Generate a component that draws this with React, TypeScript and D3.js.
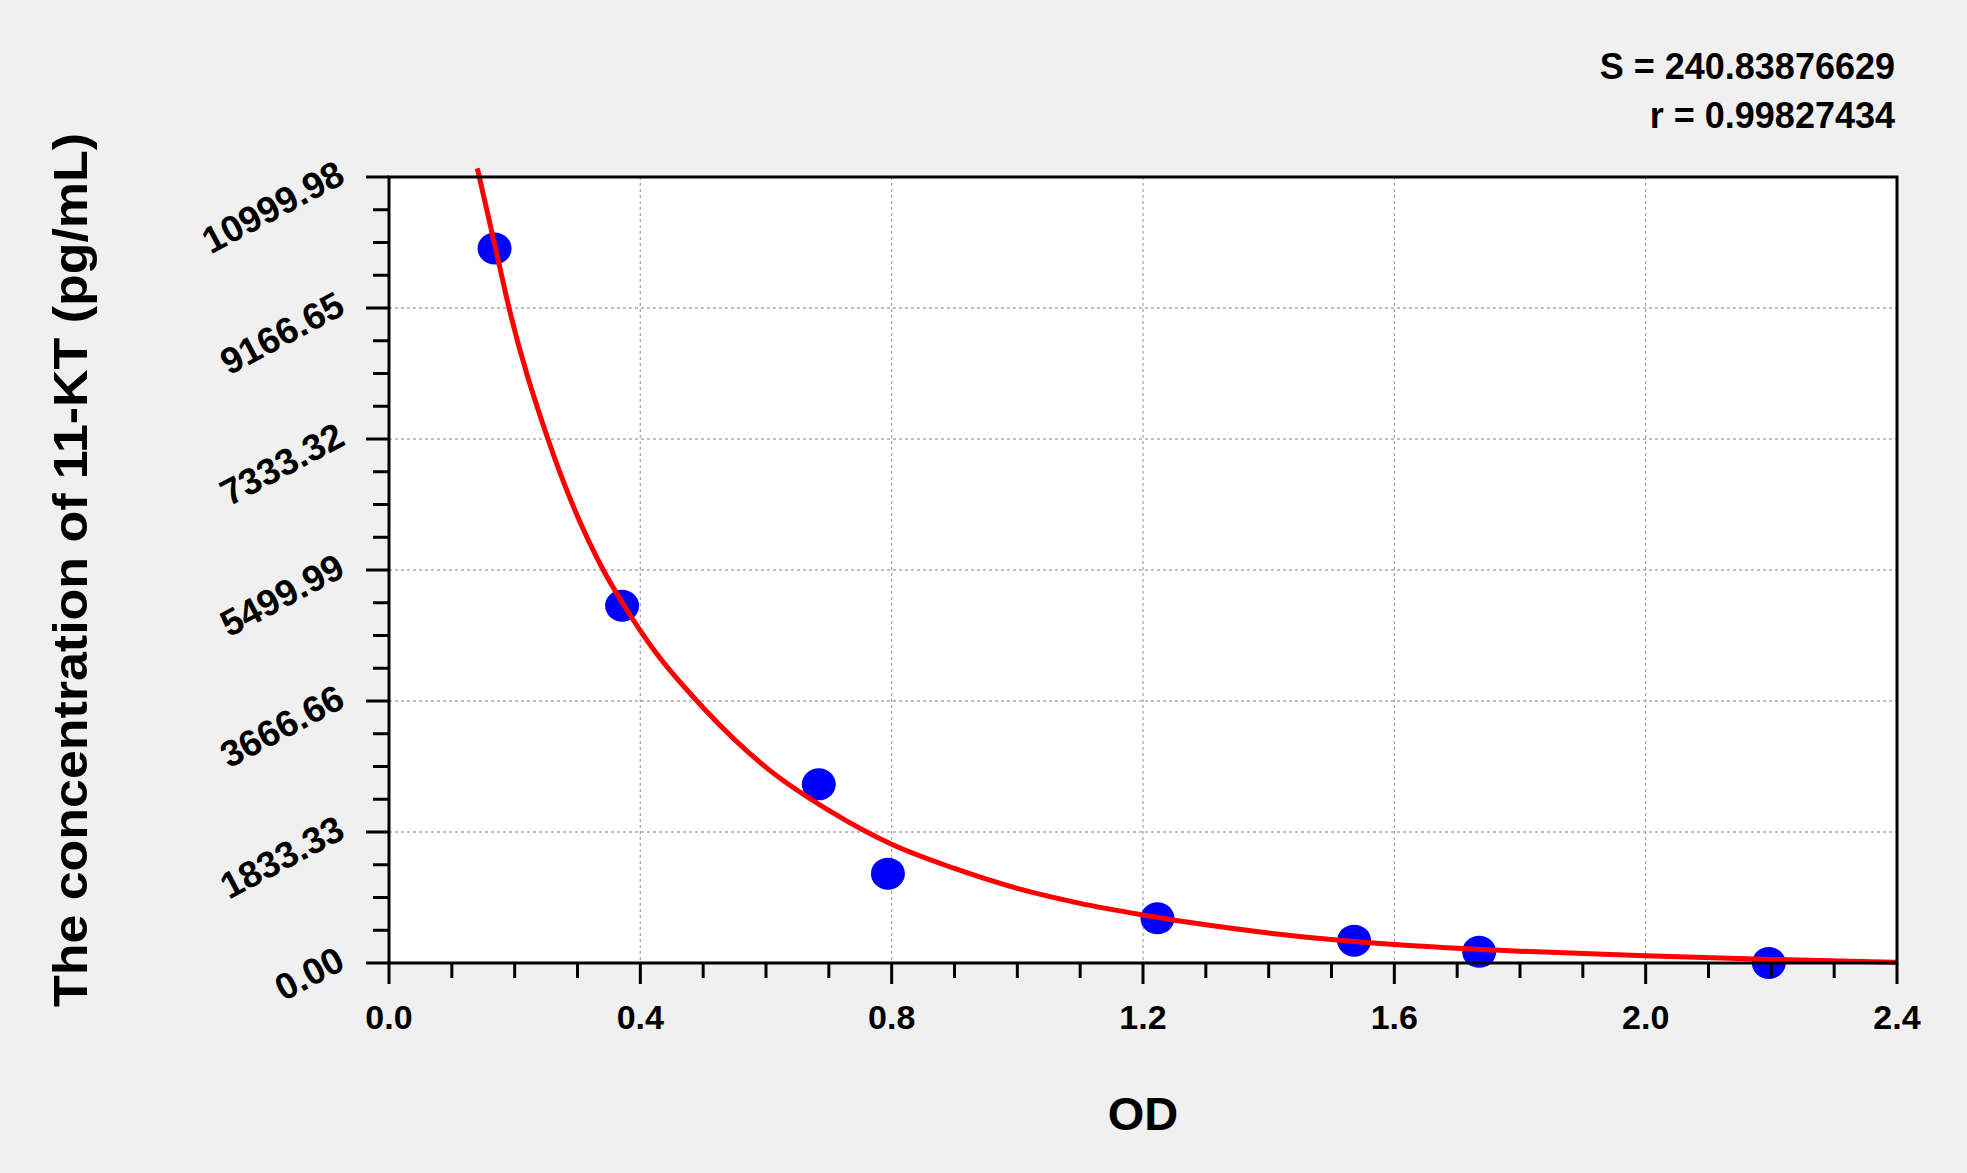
import * as d3 from "d3";

// standard points (OD vs concentration)
const pointOD = [0.168, 0.371, 0.684, 0.794, 1.223, 1.536, 1.735, 2.196];
const pointConc = [10000, 5000, 2500, 1250, 625, 312.5, 156.25, 0];

// fitted curve
const curveOD = [0.1406, 0.17, 0.191, 0.253, 0.341, 0.374, 0.419, 0.5, 0.6, 0.7, 0.8, 0.9, 1.0, 1.1, 1.2, 1.3, 1.4, 1.5, 1.6, 1.8, 2.0, 2.2, 2.4];
const curveConc = [11120, 9986, 9167, 7333, 5500, 5007, 4411, 3573, 2738, 2135, 1661, 1323, 1044, 835, 673, 534, 420, 330, 260, 165, 100, 50, 10];

const xTicks = [0, 0.4, 0.8, 1.2, 1.6, 2.0, 2.4];
const xTickLabels = ["0.0", "0.4", "0.8", "1.2", "1.6", "2.0", "2.4"];
const yTicks = [0, 1833.33, 3666.66, 5499.99, 7333.32, 9166.65, 10999.98];
const yTickLabels = ["0.00", "1833.33", "3666.66", "5499.99", "7333.32", "9166.65", "10999.98"];

const statLines = ["S = 240.83876629", "r = 0.99827434"];
const xTitle = "OD";
const yTitle = "The concentration of 11-KT (pg/mL)";

const W = 1967;
const H = 1173;
const left = 389, right = 1897, top = 177, bottom = 963;
const font = "'Liberation Sans', Arial, sans-serif";

export default function App() {
  const x = d3.scaleLinear().domain([0, 2.4]).range([left, right]);
  const y = d3.scaleLinear().domain([0, 10999.98]).range([bottom, top]);

  // 3 minor ticks between majors
  const xMinor = d3.range(0, 2.4001, 0.1).filter((_, i) => i % 4 !== 0);
  const yStep = 1833.33 / 4;
  const yMinor = d3.range(0, 24).map((i) => i * yStep).filter((_, i) => i % 4 !== 0);

  const line = d3
    .line<number>()
    .x((_, i) => x(curveOD[i]))
    .y((d) => y(d))
    .curve(d3.curveMonotoneX);

  return (
    <div style={{ position: "absolute", left: 0, top: 0 }}>
      <svg width={W} height={H} style={{ display: "block", background: "#f0f0f0" }}>
        <rect x={left} y={top} width={right - left} height={bottom - top} fill="#ffffff" />

        {/* grid */}
        {xTicks.slice(1, -1).map((t) => (
          <line key={"gx" + t} x1={x(t)} x2={x(t)} y1={top} y2={bottom} stroke="#aaaaaa" strokeWidth={1.3} strokeDasharray="3,3" />
        ))}
        {yTicks.slice(1, -1).map((t) => (
          <line key={"gy" + t} x1={left} x2={right} y1={y(t)} y2={y(t)} stroke="#aaaaaa" strokeWidth={1.3} strokeDasharray="3,3" />
        ))}

        {/* points */}
        {pointOD.map((od, i) => (
          <ellipse key={"p" + i} cx={x(od)} cy={y(pointConc[i])} rx={17} ry={16} fill="#0000ff" />
        ))}

        {/* fitted curve */}
        <path d={line(curveConc) || ""} fill="none" stroke="#ff0000" strokeWidth={5} />

        {/* frame */}
        <rect x={left} y={top} width={right - left} height={bottom - top} fill="none" stroke="#000" strokeWidth={3} />

        {/* x ticks */}
        {xTicks.map((t, i) => (
          <g key={"xt" + t}>
            <line x1={x(t)} x2={x(t)} y1={bottom} y2={bottom + 21} stroke="#000" strokeWidth={3} />
            <text x={x(t)} y={1029} textAnchor="middle" fontFamily={font} fontWeight="bold" fontSize={34} fill="#000">
              {xTickLabels[i]}
            </text>
          </g>
        ))}
        {xMinor.map((t) => (
          <line key={"xm" + t} x1={x(t)} x2={x(t)} y1={bottom} y2={bottom + 15} stroke="#000" strokeWidth={3} />
        ))}

        {/* y ticks */}
        {yTicks.map((t, i) => (
          <g key={"yt" + t}>
            <line x1={left - 23} x2={left} y1={y(t)} y2={y(t)} stroke="#000" strokeWidth={3} />
            <text
              transform={`translate(${left - 42},${y(t) + 5}) rotate(-28)`}
              textAnchor="end"
              fontFamily={font}
              fontWeight="bold"
              fontSize={37}
              fill="#000"
            >
              {yTickLabels[i]}
            </text>
          </g>
        ))}
        {yMinor.map((t) => (
          <line key={"ym" + t} x1={left - 16} x2={left} y1={y(t)} y2={y(t)} stroke="#000" strokeWidth={3} />
        ))}

        {/* titles */}
        <text x={(left + right) / 2} y={1130} textAnchor="middle" fontFamily={font} fontWeight="bold" fontSize={47} fill="#000">
          {xTitle}
        </text>
        <text
          transform={`translate(87,${(top + bottom) / 2}) rotate(-90)`}
          textAnchor="middle"
          fontFamily={font}
          fontWeight="bold"
          fontSize={48}
          textLength={874}
          lengthAdjust="spacingAndGlyphs"
          fill="#000"
        >
          {yTitle}
        </text>

        {/* fit statistics */}
        {statLines.map((s, i) => (
          <text key={s} x={1895} y={79 + i * 49} textAnchor="end" fontFamily={font} fontWeight="bold" fontSize={36} fill="#000">
            {s}
          </text>
        ))}
      </svg>
    </div>
  );
}
